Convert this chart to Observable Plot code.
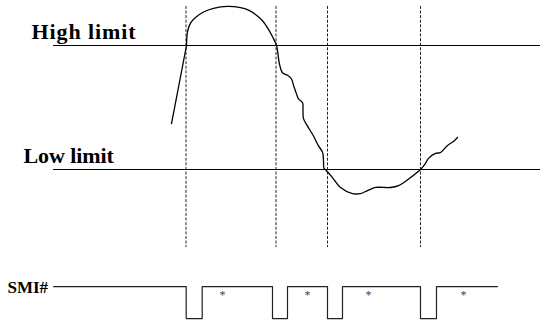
<!DOCTYPE html>
<html>
<head>
<meta charset="utf-8">
<script src="https://cdn.jsdelivr.net/npm/d3@7"></script>
<script src="https://cdn.jsdelivr.net/npm/@observablehq/plot@0.6"></script>
<style>
  html, body { margin: 0; padding: 0; background: #fff; }
  #chart svg { display: block; }
  .lbl-high text { letter-spacing: 0.9px; }
  .lbl-low text { letter-spacing: -0.1px; }
</style>
</head>
<body>
<div id="chart"></div>
<script>
// Time axis (arbitrary units) and signal level (low limit = 0, high limit = 100)
const highLimit = 100;
const lowLimit = 0;
const limitStart = 53;
const limitEnd = 540;

// Measured signal: rising edge (straight) then the rest (smooth)
const riseT = [171, 186];
const riseV = [37, 100];
const curveT = [186, 187, 190, 195, 203, 213, 227, 240, 248, 255, 262, 268, 272, 276,
  279, 282, 287, 291, 293, 296, 298, 302, 302.5, 303, 307, 313, 318, 322, 323, 323.5,
  326, 332, 340, 352, 360, 367, 375, 390, 398, 410, 420, 425, 428, 435, 440, 447, 453, 457];
const curveV = [100, 111, 118, 122.5, 127, 130, 131.5, 130.5, 128.5, 125, 120, 113, 107, 100,
  85, 78, 76, 73, 68, 61, 57, 54, 47, 41, 35, 27, 19, 14, 7, 1,
  -1, -6.5, -14.5, -19.4, -19.4, -17, -14.5, -14.5, -13, -6.5, 0, 5, 9, 13, 13.7, 19.4, 22.6, 25.8];

// Sampling instants (dashed markers)
const markerT = [185.5, 275.5, 327, 420];
const markerTop = 131.5;
const markerBottom = -63;

// SMI# signal
const smiStart = 53;
const smiEnd = 497;
const smiHigh = -94.4;
const smiLow = -120.2;
const pulseStart = [185.7, 272, 327, 420];
const pulseEnd = [201.7, 287, 342, 436];
const starT = [222, 307, 368, 463];
const starLevel = -101.5;

// Labels
const highLabel = "High limit";
const lowLabel = "Low limit";
const smiLabel = "SMI#";
const highLabelT = 31, highLabelV = 105.5;
const lowLabelT = 23, lowLabelV = 5;
const smiLabelT = 7, smiLabelV = -99.2;

// Build tables
const rise = riseT.map((t, i) => ({t, v: riseV[i]}));
const curve = curveT.map((t, i) => ({t, v: curveV[i]}));
const smi = [{t: smiStart, v: smiHigh}];
pulseStart.forEach((s, i) => {
  smi.push({t: s, v: smiHigh}, {t: s, v: smiLow}, {t: pulseEnd[i], v: smiLow}, {t: pulseEnd[i], v: smiHigh});
});
smi.push({t: smiEnd, v: smiHigh});

const chart = Plot.plot({
  width: 540,
  height: 324,
  margin: 0,
  x: {domain: [0, 540], axis: null},
  y: {domain: [-125, 136.29], axis: null},
  style: {background: "white", overflow: "visible"},
  marks: [
    Plot.ruleY([highLimit, lowLimit], {x1: limitStart, x2: limitEnd, stroke: "#000", strokeWidth: 1.2}),
    Plot.ruleX(markerT, {y1: markerTop, y2: markerBottom, stroke: "#222", strokeWidth: 1, strokeDasharray: "3,1.6"}),
    Plot.line(rise, {x: "t", y: "v", stroke: "#000", strokeWidth: 1.3}),
    Plot.line(curve, {x: "t", y: "v", stroke: "#000", strokeWidth: 1.3, curve: "catmull-rom"}),
    Plot.line(smi, {x: "t", y: "v", stroke: "#222", strokeWidth: 1.2}),
    Plot.text(starT, {x: d => d, y: starLevel, text: () => "*", fontSize: 12, fill: "#444", fontFamily: "Liberation Serif"}),
    Plot.text([highLabel], {x: highLabelT, y: highLabelV, text: d => d, textAnchor: "start", lineAnchor: "bottom",
      fontSize: 22, fontWeight: "bold", fontFamily: "Liberation Serif", fill: "#000", className: "lbl-high"}),
    Plot.text([lowLabel], {x: lowLabelT, y: lowLabelV, text: d => d, textAnchor: "start", lineAnchor: "bottom",
      fontSize: 22, fontWeight: "bold", fontFamily: "Liberation Serif", fill: "#000", className: "lbl-low"}),
    Plot.text([smiLabel], {x: smiLabelT, y: smiLabelV, text: d => d, textAnchor: "start", lineAnchor: "bottom",
      fontSize: 17, fontWeight: "bold", fontFamily: "Liberation Serif", fill: "#000"})
  ]
});
document.getElementById("chart").append(chart);
</script>
</body>
</html>
